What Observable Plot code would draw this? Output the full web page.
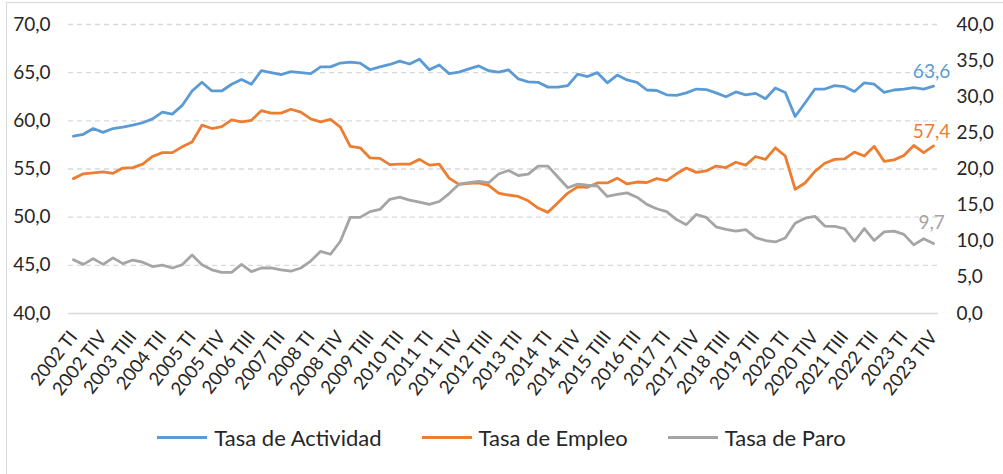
<!DOCTYPE html>
<html>
<head>
<meta charset="utf-8">
<script src="https://cdn.jsdelivr.net/npm/d3@7"></script>
<script src="https://cdn.jsdelivr.net/npm/@observablehq/plot@0.6"></script>
<style>
  html, body { margin: 0; padding: 0; background: #fff; }
  body { width: 1003px; height: 474px; overflow: hidden; position: relative; font-family: Lato, "Open Sans", sans-serif; }
  #frame { position: absolute; left: 6px; top: 2px; width: 1100px; height: 600px; border-left: 1px solid #d9d9d9; border-top: 1px solid #d9d9d9; }
  #chart { position: absolute; left: 0; top: 0; }
  #legend { position: absolute; left: 0; top: 424px; width: 1003px; display: flex; justify-content: center; gap: 40px; font-size: 22px; color: #262626; }
  .item { display: flex; align-items: center; gap: 7px; }
  .sw { width: 50px; height: 3px; }
</style>
</head>
<body>
<div id="frame"></div>
<div id="chart"></div>
<div id="legend"></div>
<script>
const years = d3.range(2002, 2024);
const quarterNames = ["TI", "TII", "TIII", "TIV"];
const periods = years.flatMap(y => quarterNames.map(q => `${y} ${q}`));

const actividad = [
  58.4, 58.6, 59.2, 58.8, 59.2, 59.35, 59.55, 59.8, 60.2, 60.9, 60.7, 61.6,
  63.1, 64.0, 63.1, 63.1, 63.8, 64.3, 63.8, 65.2, 65.0, 64.8, 65.1, 65.0,
  64.9, 65.6, 65.6, 66.0, 66.1, 66.0, 65.3, 65.6, 65.85, 66.2, 65.9, 66.4,
  65.3, 65.8, 64.9, 65.05, 65.4, 65.7, 65.2, 65.05, 65.3, 64.35, 64.05, 64.0,
  63.5, 63.5, 63.65, 64.85, 64.6, 65.0, 63.95, 64.75, 64.25, 64.0, 63.2, 63.15,
  62.7, 62.65, 62.9, 63.3, 63.25, 62.9, 62.5, 63.0, 62.7, 62.85, 62.3, 63.4,
  62.95, 60.45, 61.85, 63.3, 63.3, 63.65, 63.55, 63.05, 63.95, 63.8, 62.95, 63.2,
  63.3, 63.45, 63.3, 63.6
];
const empleo = [
  54.0, 54.5, 54.6, 54.7, 54.55, 55.1, 55.15, 55.5, 56.3, 56.7, 56.7, 57.3,
  57.8, 59.55, 59.2, 59.4, 60.1, 59.9, 60.05, 61.05, 60.8, 60.8, 61.2, 60.9,
  60.2, 59.9, 60.15, 59.35, 57.35, 57.2, 56.15, 56.1, 55.45, 55.5, 55.5, 56.0,
  55.4, 55.5, 54.05, 53.4, 53.5, 53.55, 53.3, 52.5, 52.3, 52.15, 51.7, 50.95,
  50.5, 51.5, 52.5, 53.15, 53.1, 53.55, 53.55, 54.05, 53.45, 53.65, 53.6, 54.0,
  53.8, 54.5, 55.1, 54.65, 54.8, 55.3, 55.15, 55.7, 55.4, 56.3, 56.0, 57.2,
  56.35, 52.9, 53.55, 54.75, 55.6, 56.0, 56.05, 56.75, 56.35, 57.35, 55.8, 55.95,
  56.4, 57.45, 56.7, 57.4
];
const paro = [
  7.45, 6.8, 7.6, 6.8, 7.7, 6.9, 7.4, 7.1, 6.5, 6.7, 6.3, 6.75,
  8.1, 6.75, 6.05, 5.7, 5.7, 6.8, 5.8, 6.3, 6.3, 6.05, 5.85, 6.3,
  7.25, 8.6, 8.2, 10.0, 13.3, 13.3, 14.1, 14.4, 15.8, 16.1, 15.7, 15.4,
  15.1, 15.5, 16.6, 17.9, 18.1, 18.3, 18.1, 19.3, 19.8, 19.1, 19.3, 20.4,
  20.4, 18.9, 17.4, 17.9, 17.75, 17.65, 16.2, 16.5, 16.7, 16.1, 15.1, 14.5,
  14.1, 13.0, 12.3, 13.7, 13.3, 12.0, 11.65, 11.4, 11.6, 10.5, 10.1, 9.9,
  10.45, 12.5, 13.2, 13.45, 12.1, 12.05, 11.75, 10.0, 11.75, 10.1, 11.3, 11.4,
  10.95, 9.5, 10.35, 9.7
];

const seriesNames = ["Tasa de Actividad", "Tasa de Empleo", "Tasa de Paro"];
const seriesColors = ["#5B9BD5", "#ED7D31", "#A5A5A5"];

const leftTicks = d3.range(40, 71, 5);
const rightTicks = d3.range(0, 41, 5);

// right axis (0–40) mapped onto the left domain (40–70)
const toLeft = v => 40 + v * 0.75;
const fmt = v => v.toFixed(1).replace(".", ",");

const rows = [];
periods.forEach((p, i) => {
  rows.push({i, s: seriesNames[0], v: actividad[i]});
  rows.push({i, s: seriesNames[1], v: empleo[i]});
  rows.push({i, s: seriesNames[2], v: toLeft(paro[i])});
});
const last = periods.length - 1;
const endLabels = [
  {i: last, v: actividad[last], t: fmt(actividad[last]), c: seriesColors[0], dy: -14},
  {i: last, v: empleo[last], t: fmt(empleo[last]), c: seriesColors[1], dy: -14},
  {i: last, v: toLeft(paro[last]), t: fmt(paro[last]), c: seriesColors[2], dy: -21}
];

const chart = Plot.plot({
  width: 1003,
  height: 412,
  marginLeft: 68,
  marginRight: 65,
  marginTop: 24,
  marginBottom: 99,
  style: {fontFamily: "Lato, 'Open Sans', sans-serif", color: "#262626", background: "transparent"},
  x: {domain: [-0.5, periods.length - 0.5]},
  y: {domain: [40, 70]},
  color: {domain: seriesNames, range: seriesColors},
  marks: [
    Plot.ruleY(leftTicks.filter(d => d > 40), {stroke: "#d9d9d9", strokeWidth: 1.3, strokeDasharray: "5,4"}),
    Plot.ruleY([40], {stroke: "#d9d9d9", strokeWidth: 1.5}),
    Plot.axisY(leftTicks, {anchor: "left", tickSize: 0, tickPadding: 18, fontSize: 19, tickFormat: fmt, label: null}),
    Plot.axisY(rightTicks.map(toLeft), {anchor: "right", tickSize: 0, tickPadding: 18, fontSize: 19, textAnchor: "start", tickFormat: d => fmt((d - 40) / 0.75), label: null}),
    Plot.axisX(d3.range(0, periods.length, 3), {tickSize: 0, tickPadding: 20, tickRotate: -52, fontSize: 18.5, tickFormat: i => periods[i], label: null}),
    Plot.line(rows, {x: "i", y: "v", z: "s", stroke: "s", strokeWidth: 2.8, strokeLinejoin: "round", strokeLinecap: "round"}),
    ...endLabels.map(d => Plot.text([d], {x: "i", y: "v", text: "t", fill: d.c, dy: d.dy, dx: -2, fontSize: 19, textAnchor: "middle"}))
  ]
});
document.getElementById("chart").appendChild(chart);

const legend = document.getElementById("legend");
seriesNames.forEach((n, k) => {
  const it = document.createElement("div");
  it.className = "item";
  const sw = document.createElement("div");
  sw.className = "sw";
  sw.style.background = seriesColors[k];
  const tx = document.createElement("span");
  tx.textContent = n;
  it.appendChild(sw);
  it.appendChild(tx);
  legend.appendChild(it);
});
</script>
</body>
</html>
